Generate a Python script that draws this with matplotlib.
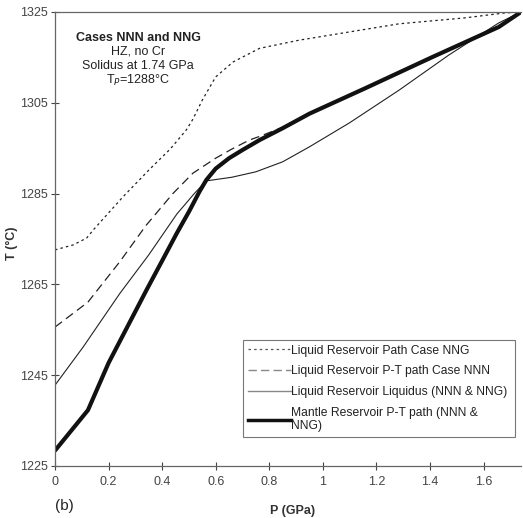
import matplotlib
matplotlib.use("Agg")
import matplotlib.pyplot as plt
from matplotlib.lines import Line2D

# Liquid Reservoir Path Case NNG (dotted)
nng_p = [0.0, 0.068, 0.118, 0.143, 0.254, 0.354, 0.43, 0.49, 0.515, 0.55, 0.60, 0.665, 0.764, 0.912, 1.285, 1.53, 1.68, 1.74]
nng_t = [1272.6, 1273.7, 1275.2, 1277.0, 1284.3, 1290.4, 1294.8, 1299.0, 1301.4, 1305.6, 1310.7, 1314.0, 1317.0, 1318.8, 1322.4, 1323.7, 1324.8, 1325.0]

# Liquid Reservoir P-T path Case NNN (dashed)
nnn_p = [0.0, 0.123, 0.242, 0.34, 0.44, 0.515, 0.60, 0.66, 0.726, 0.764, 0.85, 0.95, 1.162, 1.41, 1.657, 1.74]
nnn_t = [1255.6, 1261.1, 1270.0, 1278.0, 1285.0, 1289.5, 1292.8, 1294.8, 1296.8, 1297.6, 1299.6, 1302.8, 1308.3, 1315.1, 1321.7, 1325.0]

# Liquid Reservoir Liquidus (NNN & NNG) (thin solid)
liq_p = [0.0, 0.105, 0.242, 0.35, 0.455, 0.52, 0.565, 0.66, 0.75, 0.85, 0.95, 1.10, 1.285, 1.47, 1.657, 1.74]
liq_t = [1242.8, 1251.2, 1263.0, 1271.5, 1280.5, 1285.0, 1287.8, 1288.6, 1289.8, 1292.0, 1295.3, 1300.6, 1307.8, 1315.5, 1322.6, 1325.0]

# Mantle Reservoir P-T path (NNN & NNG) (thick solid)
man_p = [0.0, 0.123, 0.2, 0.342, 0.40, 0.455, 0.50, 0.54, 0.565, 0.60, 0.65, 0.70, 0.764, 0.85, 0.95, 1.162, 1.41, 1.657, 1.74]
man_t = [1228.4, 1237.3, 1247.7, 1263.8, 1270.2, 1276.3, 1281.0, 1285.5, 1288.0, 1290.5, 1292.8, 1294.6, 1296.8, 1299.4, 1302.6, 1308.3, 1315.1, 1321.7, 1325.0]

x_ticks = [0, 0.2, 0.4, 0.6, 0.8, 1, 1.2, 1.4, 1.6]
x_ticklabels = ["0", "0.2", "0.4", "0.6", "0.8", "1", "1.2", "1.4", "1.6"]
y_ticks = [1225, 1245, 1265, 1285, 1305, 1325]

plt.rcParams['font.family'] = ['Liberation Sans', 'DejaVu Sans']

fig = plt.figure(figsize=(5.23, 5.18), dpi=100)
ax = fig.add_axes([55/523, 52/518, 466/523, 454/518])

ax.plot(nng_p, nng_t, color='#222222', lw=0.9, linestyle=(0, (2.0, 2.5)))
ax.plot(nnn_p, nnn_t, color='#222222', lw=0.9, linestyle=(0, (7, 4)))
ax.plot(liq_p, liq_t, color='#222222', lw=0.8)
ax.plot(man_p, man_t, color='#111111', lw=3.0, solid_capstyle='round', solid_joinstyle='round')

ax.set_xlim(0, 1.74)
ax.set_ylim(1225, 1325)
ax.set_xticks(x_ticks)
ax.set_xticklabels(x_ticklabels)
ax.set_yticks(y_ticks)
ax.tick_params(direction='inout', length=6, width=0.8, colors='#444444', labelsize=9)
ax.tick_params(axis='y', pad=2)
ax.tick_params(axis='x', pad=4)
for s in ['left', 'bottom', 'top']:
    ax.spines[s].set_color('#666666')
    ax.spines[s].set_linewidth(0.9)
ax.spines['right'].set_visible(False)

ax.set_xlabel('P (GPa)', fontweight='bold', fontsize=9, color='#333333')
ax.xaxis.set_label_coords(0.51, -0.085)
ax.set_ylabel('T (°C)', fontweight='bold', fontsize=9, color='#333333')
ax.yaxis.set_label_coords(-0.079, 0.49)

tx = 0.31
ax.text(tx, 1319.3, 'Cases NNN and NNG', fontweight='bold', fontsize=9, ha='center', va='center', color='#222222')
ax.text(tx, 1316.2, 'HZ, no Cr', fontsize=9, ha='center', va='center', color='#222222')
ax.text(tx, 1313.1, 'Solidus at 1.74 GPa', fontsize=9, ha='center', va='center', color='#222222')
ax.text(tx, 1310.0, 'T$_P$=1288°C', fontsize=9, ha='center', va='center', color='#222222')

fig.text(55/523, 1 - 506/518, '(b)', fontsize=11, ha='left', va='center', color='#222222')

handles = [
    Line2D([], [], color='#555555', lw=0.9, linestyle=(0, (2.0, 2.5))),
    Line2D([], [], color='#888888', lw=1.0, linestyle=(0, (6, 3))),
    Line2D([], [], color='#888888', lw=1.0),
    Line2D([], [], color='#111111', lw=2.5),
]
labels = ['Liquid Reservoir Path Case NNG',
          'Liquid Reservoir P-T path Case NNN',
          'Liquid Reservoir Liquidus (NNN & NNG)',
          'Mantle Reservoir P-T path (NNN &\nNNG)']
leg = ax.legend(handles, labels, loc='lower left', bbox_to_anchor=(188/466, 29/454, 272/466, 97/454),
                mode='expand', fontsize=8.7, frameon=True, fancybox=False, edgecolor='#555555',
                handlelength=3.6, handletextpad=0.0, labelspacing=0.72, borderpad=0.38, borderaxespad=0)
leg.get_frame().set_linewidth(0.8)
for t in leg.get_texts():
    t.set_color('#222222')
    t.set_linespacing(1.2)

fig.savefig('out.png', dpi=100)
